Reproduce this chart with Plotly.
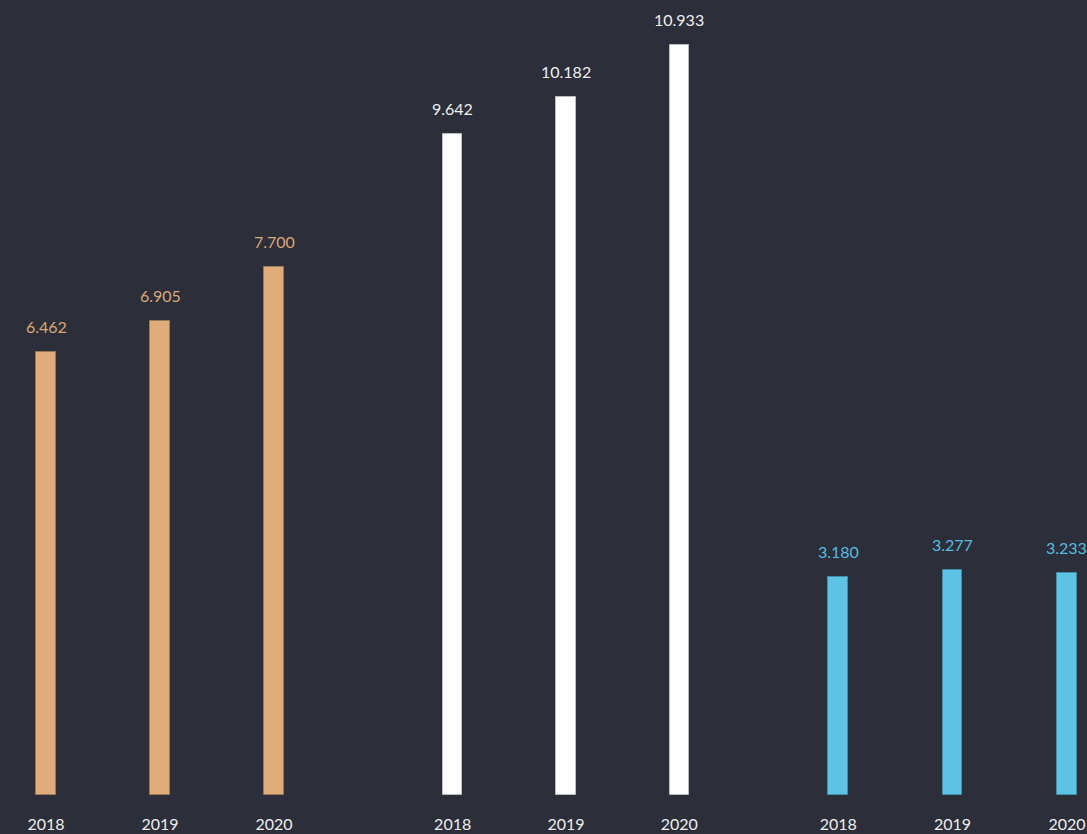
import plotly.graph_objects as go

years = ["2018", "2019", "2020"]
series_a = [6462, 6905, 7700]
series_b = [9642, 10182, 10933]
series_c = [3180, 3277, 3233]
labels_a = ["6.462", "6.905", "7.700"]
labels_b = ["9.642", "10.182", "10.933"]
labels_c = ["3.180", "3.277", "3.233"]

W, H = 1087, 834
bg = "#2c2e3a"
FONT = "Lato, Noto Sans, sans-serif"
colors = ["#e0ac7c", "#ffffff", "#5cc3e4"]
text_colors = ["#dca776", "#eeeeee", "#56bde0"]
line_colors = ["#9c7a58", "#bbbbbb", "#3f8fab"]

fig = go.Figure()
groups = [(series_a, labels_a), (series_b, labels_b), (series_c, labels_c)]
domains_px = [(0, 331), (396, 736), (781, 1087)]
ranges = [[-0.404, 2.5], [-0.5, 2.5], [-0.5, 2.175]]

for i, (vals, labs) in enumerate(groups):
    xa = "x" if i == 0 else f"x{i+1}"
    fig.add_trace(go.Bar(
        x=years, y=vals, xaxis=xa, yaxis="y",
        width=0.17,
        marker=dict(color=colors[i], line=dict(color=line_colors[i], width=1)),
        hoverinfo="skip", showlegend=False,
    ))
    for j, (v, lab) in enumerate(zip(vals, labs)):
        fig.add_annotation(
            x=j, y=v, xref=xa, yref="y", text=lab, showarrow=False,
            yanchor="bottom", yshift=14,
            font=dict(family=FONT, size=16, color=text_colors[i]),
        )

layout = dict(
    width=W, height=H,
    paper_bgcolor=bg, plot_bgcolor=bg,
    margin=dict(l=0, r=0, t=0, b=39),
    font=dict(family=FONT, size=16, color="#eeeeee"),
    yaxis=dict(range=[0, 11590], visible=False, showgrid=False, zeroline=False),
    bargap=0,
)
for i in range(3):
    key = "xaxis" if i == 0 else f"xaxis{i+1}"
    d0, d1 = domains_px[i]
    layout[key] = dict(
        domain=[d0 / W, d1 / W], range=ranges[i], type="category",
        showgrid=False, zeroline=False, showline=False, ticks="",
        tickfont=dict(family=FONT, size=16, color="#eeeeee"), anchor="y",
        ticklabelstandoff=18,
    )
fig.update_layout(**layout)
fig.write_html(
    "out.html",
    config={"displayModeBar": False},
    post_script="document.body.style.margin='0';document.body.style.background='%s';" % bg,
)
